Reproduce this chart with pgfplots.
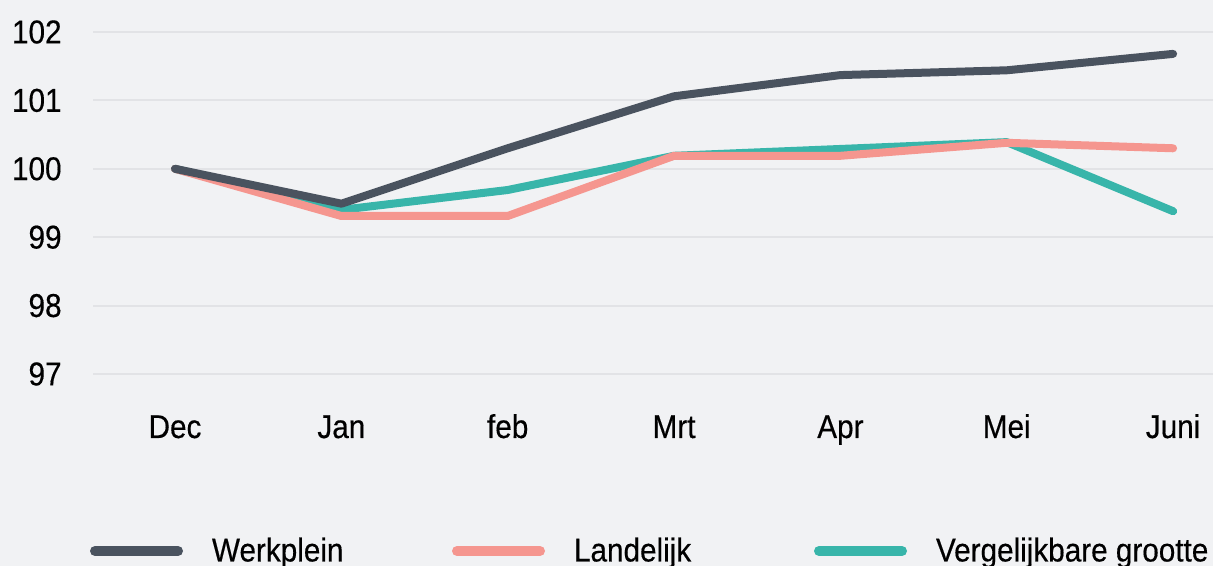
\documentclass[border=0pt]{standalone}
\usepackage{pgfplots}
\pgfplotsset{compat=1.18}
\usepackage{fontspec}
\setmainfont{Liberation Sans}[FakeStretch=0.9, FakeBold=0.4]
\definecolor{bg}{HTML}{F1F2F4}
\definecolor{gridc}{HTML}{E2E3E6}
\definecolor{werk}{HTML}{4A535F}
\definecolor{land}{HTML}{F5968F}
\definecolor{verg}{HTML}{38B5AA}
\begin{document}
\begin{tikzpicture}[font=\fontsize{16.5pt}{19pt}\selectfont]
\useasboundingbox (-46.5pt,-96pt) rectangle (560pt,187pt);
\fill[bg] (-46.5pt,-96pt) rectangle (560pt,187pt);
\begin{axis}[
  at={(0pt,0pt)}, anchor=south west,
  scale only axis, width=560pt, height=171pt,
  xmin=-0.493, xmax=6.24, ymin=97, ymax=102,
  axis line style={draw=none},
  major tick length=0pt,
  ytick={97,98,99,100,101,102},
  xtick={0,1,2,3,4,5,6},
  xticklabels={Dec,Jan,feb,Mrt,Apr,Mei,Juni},
  ymajorgrids, grid style={gridc, line width=1pt},
  /pgf/number format/assume math mode=true,
  yticklabel style={anchor=east, inner sep=0pt, xshift=-15.5pt},
  xticklabel style={anchor=base, inner sep=0pt, yshift=-32pt},
  clip=false,
  legend columns=3,
  legend style={draw=none, fill=none, inner sep=0pt, outer sep=0pt,
    at={([yshift=-88.5pt,xshift=-1.5pt]rel axis cs:0,0)}, anchor=west,
    nodes={inner sep=0pt},
    /tikz/every odd column/.append style={column sep=14.5pt},
    /tikz/every even column/.append style={column sep=0pt}},
  legend image code/.code={\draw[#1, line width=5pt, line cap=round] (2.5pt,0pt) -- (44pt,0pt);},
  every axis plot/.append style={line width=4pt, line join=round, line cap=round},
]
\addlegendimage{werk}
\addlegendentry{\makebox[120pt][l]{Werkplein}}
\addlegendimage{land}
\addlegendentry{\makebox[120pt][l]{Landelijk}}
\addlegendimage{verg}
\addlegendentry{Vergelijkbare grootte}
\addplot[verg, forget plot] coordinates {(0,100)(1,99.40)(2,99.69)(3,100.19)(4,100.29)(5,100.39)(6,99.38)};
\addplot[land, forget plot] coordinates {(0,100)(1,99.31)(2,99.31)(3,100.19)(4,100.19)(5,100.38)(6,100.30)};
\addplot[werk, forget plot] coordinates {(0,100)(1,99.49)(2,100.30)(3,101.06)(4,101.37)(5,101.44)(6,101.68)};
\end{axis}
\end{tikzpicture}
\end{document}
